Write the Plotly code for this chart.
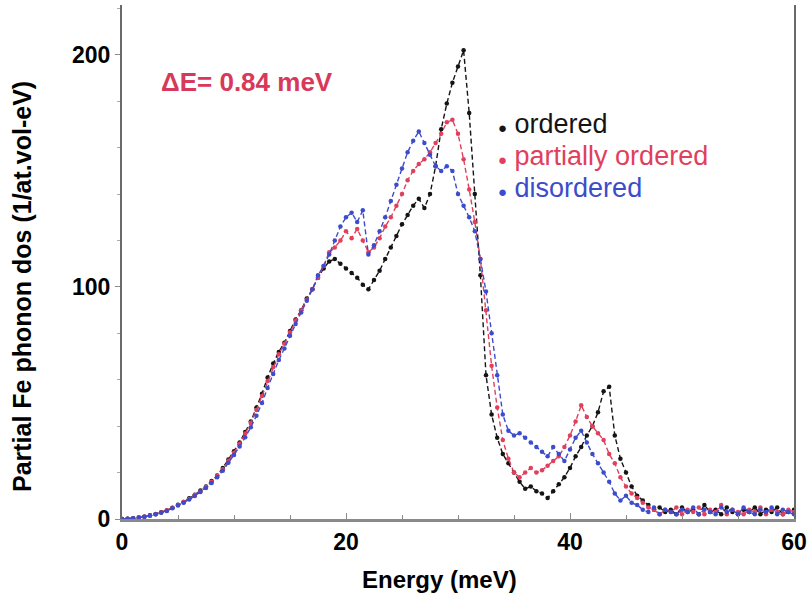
import plotly.graph_objects as go

# Energy grid (meV), 0.5 meV steps
energy = [
    0.0, 0.5, 1.0, 1.5, 2.0, 2.5, 3.0, 3.5, 4.0, 4.5,
    5.0, 5.5, 6.0, 6.5, 7.0, 7.5, 8.0, 8.5, 9.0, 9.5,
    10.0, 10.5, 11.0, 11.5, 12.0, 12.5, 13.0, 13.5, 14.0, 14.5,
    15.0, 15.5, 16.0, 16.5, 17.0, 17.5, 18.0, 18.5, 19.0, 19.5,
    20.0, 20.5, 21.0, 21.5, 22.0, 22.5, 23.0, 23.5, 24.0, 24.5,
    25.0, 25.5, 26.0, 26.5, 27.0, 27.5, 28.0, 28.5, 29.0, 29.5,
    30.0, 30.5, 31.0, 31.5, 32.0, 32.5, 33.0, 33.5, 34.0, 34.5,
    35.0, 35.5, 36.0, 36.5, 37.0, 37.5, 38.0, 38.5, 39.0, 39.5,
    40.0, 40.5, 41.0, 41.5, 42.0, 42.5, 43.0, 43.5, 44.0, 44.5,
    45.0, 45.5, 46.0, 46.5, 47.0, 47.5, 48.0, 48.5, 49.0, 49.5,
    50.0, 50.5, 51.0, 51.5, 52.0, 52.5, 53.0, 53.5, 54.0, 54.5,
    55.0, 55.5, 56.0, 56.5, 57.0, 57.5, 58.0, 58.5, 59.0, 59.5,
    60.0,
]

dos_ordered = [
    0, 0.1, 0.3, 0.6, 1.0, 1.6, 2.1, 2.9, 3.7, 4.9,
    6.1, 7.2, 8.9, 10.4, 12.3, 14.0, 16.4, 18.7, 22.0, 25.6,
    29.2, 33, 37.5, 42, 48, 54, 61, 67, 72, 76,
    81, 86, 90, 95, 99, 104, 108, 111, 112, 110,
    108, 106, 104, 101, 99, 103, 107, 112, 117, 122,
    127, 131, 135, 138, 134, 140, 152, 168, 179, 188,
    195, 202, 175, 140, 105, 62, 45, 35, 28, 24,
    20, 16, 13, 14, 12, 11, 9, 12, 15, 18,
    22, 27, 31, 36, 40, 46, 55, 57, 36, 26,
    20, 14, 10, 8, 6, 4, 5, 3, 4, 2,
    5, 3, 4, 2, 6, 3, 4, 2, 5, 3,
    2, 4, 3, 5, 2, 4, 3, 5, 2, 3,
    4,
]

dos_partial = [
    0, 0.1, 0.3, 0.6, 1.1, 1.5, 2.2, 2.8, 3.8, 4.7,
    6.0, 7.4, 8.6, 10.3, 11.9, 13.9, 16.0, 18.6, 21.4, 25.1,
    28.6, 32.4, 36.8, 41.5, 47, 53, 59.5, 65.5, 71, 75.5,
    80.5, 85.5, 90, 94.5, 99, 104, 109, 115, 117, 120,
    124, 121, 125, 120, 115, 117, 121, 126, 130, 135,
    140, 146, 150, 153, 155, 158, 162, 166, 171, 172,
    166, 155, 142, 128, 112, 90, 66, 48, 34, 26,
    20, 18, 20, 22, 20, 21, 23, 25, 27, 31,
    36, 42, 49, 44, 40, 37, 34, 28, 24, 18,
    14, 11, 9, 7, 5, 4, 2, 4, 3, 5,
    2, 4, 3, 5, 2, 4, 3, 6, 2, 4,
    3, 2, 4, 3, 5, 2, 4, 3, 2, 4,
    3,
]

dos_disordered = [
    0, 0.1, 0.3, 0.6, 1.0, 1.4, 2.0, 2.7, 3.5, 4.6,
    5.8, 7.0, 8.4, 9.9, 11.6, 13.4, 15.5, 18.0, 20.8, 24.2,
    27.6, 31.2, 35.2, 39.5, 44.5, 50, 56.5, 62.5, 68.5, 73.5,
    79, 84, 89, 94, 99, 105, 109, 114, 120, 126,
    130, 132, 128, 133, 114, 118, 124, 130, 137, 144,
    151, 158, 163, 167, 162, 157, 152, 150, 152, 150,
    140, 135, 130, 124, 112, 98, 80, 62, 45, 38,
    36, 37, 35, 33, 31, 29, 27, 31, 28, 25,
    30, 35, 38, 33, 28, 24, 20, 16, 11, 8,
    10, 7, 6, 4, 3, 5, 2, 4, 3, 2,
    4, 3, 5, 2, 4, 3, 2, 5, 3, 4,
    2, 5, 3, 2, 4, 3, 5, 2, 4, 3,
    2,
]

series_names = ["ordered", "partially ordered", "disordered"]
series_colors = ["#141414", "#e0405c", "#3c4ccc"]
series_values = [dos_ordered, dos_partial, dos_disordered]

x_ticks = [0, 20, 40, 60]
y_ticks = [0, 100, 200]

fig = go.Figure()
for name, color, vals in zip(series_names, series_colors, series_values):
    fig.add_trace(go.Scatter(
        x=energy, y=vals, name=name, mode="lines+markers",
        line=dict(color=color, width=1.4, dash="5px,3px"),
        marker=dict(color=color, size=4.5),
        showlegend=False,
    ))

FONT = "Liberation Sans, Arial, sans-serif"

annotations = [
    dict(text="<b>ΔE= 0.84 meV</b>", x=0.055, y=0.850, xref="paper", yref="paper",
         xanchor="left", yanchor="middle", showarrow=False,
         font=dict(family=FONT, size=26, color="#d8385a")),
    dict(text="<b>Energy (meV)</b>", x=0.473, y=-0.118, xref="paper", yref="paper",
         xanchor="center", yanchor="middle", showarrow=False,
         font=dict(family=FONT, size=24, color="black")),
    dict(text="<b>Partial Fe phonon dos (1/at.vol-eV)</b>", x=-0.149, y=0.453,
         xref="paper", yref="paper", xanchor="center", yanchor="middle",
         textangle=-90, showarrow=False,
         font=dict(family=FONT, size=25, color="black")),
]
legend_y = [0.7685, 0.7062, 0.6440]
for name, color, ly in zip(series_names, series_colors, legend_y):
    annotations.append(dict(
        text='<span style="font-size:15px">●</span> ' + name,
        x=0.557, y=ly, xref="paper", yref="paper", xanchor="left", yanchor="middle",
        showarrow=False, font=dict(family=FONT, size=27, color=color)))

fig.update_layout(
    width=811, height=601,
    margin=dict(l=122, r=17, t=5, b=82),
    paper_bgcolor="white", plot_bgcolor="white",
    annotations=annotations,
    xaxis=dict(
        range=[0, 60], tickvals=x_ticks, ticktext=[str(v) for v in x_ticks],
        showgrid=False, zeroline=False,
        showline=True, linecolor="#8a8a8a", linewidth=3, mirror=False,
        ticks="inside", ticklen=6, tickcolor="#8a8a8a",
        minor=dict(dtick=5, ticks="inside", ticklen=4, tickcolor="#8a8a8a"),
        tickfont=dict(family=FONT, size=23, color="black", weight="bold"),
    ),
    yaxis=dict(
        range=[0, 221.5], tickvals=y_ticks, ticktext=[str(v) for v in y_ticks],
        showgrid=False, zeroline=False,
        showline=True, linecolor="#6a6a6a", linewidth=2, mirror=True,
        ticks="outside", ticklen=5, tickcolor="#8a8a8a",
        minor=dict(dtick=20, ticks="outside", ticklen=3, tickcolor="#aaaaaa"),
        tickfont=dict(family=FONT, size=23, color="black", weight="bold"),
    ),
)

fig.write_html("out.html")
